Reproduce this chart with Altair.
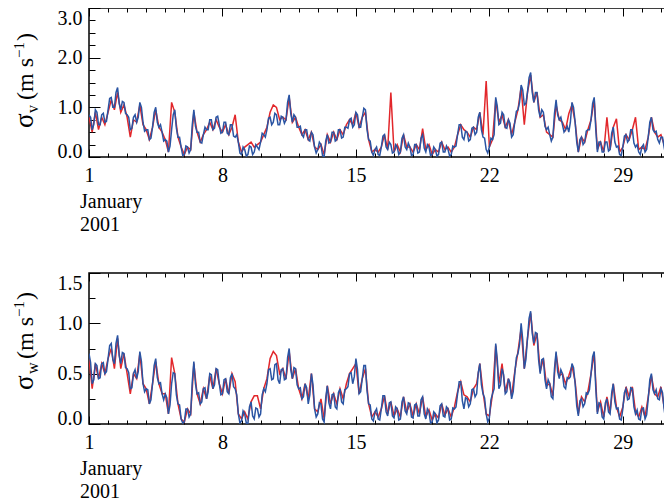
import altair as alt
import pandas as pd

# ---- data: day of January 2001 ----
# blue series read every 2 hours, red series every 4 hours
sv_blue = [
    0.85, 0.80, 0.55, 0.65, 0.95, 0.90, 0.65, 0.65, 0.85, 0.88, 0.70, 0.72,
    0.95, 1.18, 1.20, 1.00, 1.00, 1.30, 1.40, 1.08, 0.95, 1.12, 1.10, 0.88,
    0.85, 0.80, 0.55, 0.58, 0.80, 0.85, 0.70, 0.80, 1.10, 1.00, 0.70, 0.52,
    0.55, 0.55, 0.35, 0.38, 0.60, 0.90, 1.00, 0.70, 0.60, 0.65, 0.50, 0.32,
    0.35, 0.32, 0.10, 0.22, 0.55, 0.85, 0.95, 0.58, 0.40, 0.40, 0.20, 0.03,
    0.05, 0.22, 0.20, 0.08, 0.15, 0.65, 0.95, 0.62, 0.50, 0.50, 0.30, 0.28,
    0.45, 0.60, 0.55, 0.55, 0.75, 0.75, 0.55, 0.58, 0.80, 0.82, 0.65, 0.48,
    0.50, 0.70, 0.70, 0.48, 0.45, 0.65, 0.65, 0.42, 0.40, 0.45, 0.30, 0.08,
    0.05, 0.20, 0.15, 0.02, 0.05, 0.22, 0.20, 0.05, 0.10, 0.25, 0.20, 0.15,
    0.30, 0.48, 0.45, 0.40, 0.55, 0.78, 0.80, 0.65, 0.70, 0.88, 0.85, 0.65,
    0.65, 0.82, 0.80, 0.68, 0.75, 1.10, 1.25, 0.88, 0.70, 0.85, 0.80, 0.60,
    0.60, 0.62, 0.45, 0.40, 0.55, 0.55, 0.35, 0.32, 0.50, 0.45, 0.20, 0.08,
    0.15, 0.30, 0.25, 0.03, 0.00, 0.32, 0.45, 0.28, 0.30, 0.50, 0.50, 0.32,
    0.35, 0.55, 0.55, 0.38, 0.40, 0.60, 0.60, 0.58, 0.75, 0.78, 0.60, 0.65,
    0.90, 0.85, 0.60, 0.60, 0.80, 0.98, 0.95, 0.55, 0.35, 0.32, 0.10, 0.03,
    0.15, 0.20, 0.05, 0.03, 0.20, 0.42, 0.45, 0.20, 0.15, 0.30, 0.25, 0.08,
    0.10, 0.25, 0.20, 0.05, 0.10, 0.38, 0.45, 0.20, 0.15, 0.28, 0.20, 0.03,
    0.05, 0.25, 0.25, 0.08, 0.10, 0.38, 0.45, 0.18, 0.10, 0.25, 0.20, 0.03,
    0.05, 0.20, 0.15, 0.02, 0.05, 0.28, 0.30, 0.10, 0.10, 0.22, 0.15, 0.02,
    0.05, 0.22, 0.20, 0.22, 0.45, 0.65, 0.65, 0.40, 0.35, 0.52, 0.50, 0.32,
    0.35, 0.58, 0.60, 0.45, 0.50, 0.80, 0.90, 0.55, 0.40, 0.38, 0.15, 0.08,
    0.20, 0.38, 0.35, 0.45, 1.20, 1.02, 0.65, 0.68, 0.90, 0.85, 0.60, 0.58,
    0.75, 0.68, 0.40, 0.45, 0.70, 0.92, 0.95, 1.10, 1.45, 1.35, 1.05, 1.08,
    1.30, 1.60, 1.70, 1.30, 1.10, 1.30, 1.30, 0.95, 0.80, 0.95, 0.90, 0.62,
    0.55, 0.60, 0.45, 0.32, 0.40, 0.88, 1.15, 0.85, 0.75, 0.80, 0.65, 0.50,
    0.55, 0.62, 0.50, 0.70, 1.10, 1.00, 0.70, 0.30, 0.10, 0.35, 0.40, 0.25,
    0.30, 0.52, 0.55, 0.55, 0.75, 1.08, 1.20, 0.55, 0.10, 0.30, 0.30, 0.10,
    0.10, 0.30, 0.30, 0.12, 0.15, 0.48, 0.60, 0.30, 0.20, 0.22, 0.05, 0.03,
    0.20, 0.42, 0.45, 0.30, 0.35, 0.55, 0.55, 0.28, 0.20, 0.25, 0.10, 0.05,
    0.20, 0.25, 0.10, 0.15, 0.40, 0.70, 0.80, 0.55, 0.50, 0.52, 0.35, 0.28,
    0.40, 0.40, 0.20, 0.03, 0.05, 0.28, 0.30, 0.25, 0.40, 0.45, 0.30, 0.22,
    0.35,
]

sv_red = [
    0.80, 0.50, 0.90, 0.55, 0.80, 0.65,
    0.90, 1.15, 0.95, 1.30, 0.90, 1.05,
    0.80, 0.40, 0.75, 0.70, 1.05, 0.65,
    0.55, 0.35, 0.60, 0.95, 0.60, 0.50,
    0.35, 0.10, 1.10, 0.90, 0.40, 0.20,
    0.05, 0.20, 0.15, 0.90, 0.50, 0.30,
    0.45, 0.55, 0.70, 0.55, 0.75, 0.60,
    0.50, 0.65, 0.45, 0.60, 0.85, 0.30,
    0.10, 0.20, 0.25, 0.30, 0.20, 0.25,
    0.30, 0.45, 0.60, 0.90, 1.05, 1.00,
    0.75, 0.80, 0.75, 1.20, 0.70, 0.80,
    0.60, 0.45, 0.55, 0.35, 0.50, 0.20,
    0.15, 0.25, 0.05, 0.45, 0.30, 0.50,
    0.35, 0.55, 0.45, 0.65, 0.75, 0.65,
    0.90, 0.60, 0.80, 0.90, 0.35, 0.10,
    0.15, 0.10, 0.20, 0.45, 0.15, 1.30,
    0.10, 0.25, 0.10, 0.45, 0.20, 0.20,
    0.10, 0.25, 0.15, 0.57, 0.15, 0.25,
    0.05, 0.15, 0.10, 0.30, 0.15, 0.20,
    0.10, 0.20, 0.45, 0.65, 0.55, 0.50,
    0.40, 0.60, 0.55, 0.90, 0.45, 1.53,
    0.20, 0.35, 1.15, 0.70, 0.85, 0.60,
    0.75, 0.45, 0.70, 0.95, 1.40, 0.65,
    1.30, 1.65, 1.10, 1.30, 0.80, 0.85,
    0.50, 0.45, 0.40, 1.05, 0.75, 0.70,
    0.55, 0.87, 1.05, 0.70, 0.10, 0.40,
    0.30, 0.55, 0.75, 1.15, 0.15, 0.30,
    0.10, 0.80, 0.15, 0.60, 0.77, 0.10,
    0.20, 0.45, 0.35, 0.55, 0.80, 0.15,
    0.20, 0.15, 0.40, 0.80, 0.50, 0.40,
    0.45, 0.25, 0.10, 0.45, 0.40, 0.35,
    0.35,
]

sw_blue = [
    0.70, 0.61, 0.40, 0.44, 0.60, 0.58, 0.45, 0.46, 0.60, 0.61, 0.50, 0.52,
    0.65, 0.78, 0.80, 0.64, 0.60, 0.80, 0.88, 0.68, 0.60, 0.71, 0.70, 0.56,
    0.55, 0.51, 0.35, 0.36, 0.50, 0.54, 0.45, 0.52, 0.72, 0.62, 0.40, 0.32,
    0.35, 0.34, 0.20, 0.24, 0.40, 0.58, 0.65, 0.46, 0.40, 0.41, 0.30, 0.24,
    0.30, 0.26, 0.10, 0.19, 0.40, 0.51, 0.50, 0.29, 0.20, 0.19, 0.05, 0.01,
    0.02, 0.15, 0.15, 0.07, 0.10, 0.42, 0.62, 0.40, 0.30, 0.31, 0.20, 0.22,
    0.35, 0.36, 0.25, 0.32, 0.50, 0.49, 0.35, 0.39, 0.55, 0.54, 0.40, 0.29,
    0.30, 0.44, 0.45, 0.32, 0.30, 0.46, 0.50, 0.37, 0.35, 0.29, 0.10, 0.01,
    0.03, 0.13, 0.10, 0.01, 0.00, 0.17, 0.22, 0.08, 0.05, 0.16, 0.15, 0.07,
    0.10, 0.29, 0.35, 0.32, 0.40, 0.54, 0.55, 0.44, 0.45, 0.59, 0.60, 0.44,
    0.40, 0.54, 0.55, 0.44, 0.45, 0.66, 0.75, 0.54, 0.45, 0.56, 0.55, 0.39,
    0.35, 0.36, 0.25, 0.27, 0.40, 0.36, 0.20, 0.29, 0.50, 0.39, 0.15, 0.07,
    0.10, 0.21, 0.20, 0.05, 0.02, 0.26, 0.38, 0.21, 0.15, 0.29, 0.30, 0.17,
    0.15, 0.31, 0.35, 0.22, 0.20, 0.34, 0.35, 0.37, 0.50, 0.51, 0.40, 0.47,
    0.65, 0.54, 0.30, 0.32, 0.45, 0.58, 0.58, 0.33, 0.20, 0.19, 0.05, 0.03,
    0.12, 0.15, 0.05, 0.04, 0.15, 0.28, 0.28, 0.12, 0.08, 0.21, 0.22, 0.08,
    0.06, 0.17, 0.15, 0.04, 0.05, 0.22, 0.27, 0.13, 0.10, 0.21, 0.20, 0.07,
    0.06, 0.19, 0.20, 0.08, 0.08, 0.24, 0.27, 0.10, 0.05, 0.15, 0.12, 0.01,
    0.02, 0.12, 0.10, 0.01, 0.04, 0.18, 0.20, 0.08, 0.07, 0.17, 0.15, 0.04,
    0.05, 0.16, 0.15, 0.17, 0.30, 0.42, 0.42, 0.23, 0.15, 0.26, 0.25, 0.17,
    0.20, 0.34, 0.35, 0.27, 0.30, 0.51, 0.60, 0.39, 0.30, 0.26, 0.10, 0.02,
    0.06, 0.24, 0.30, 0.35, 0.80, 0.64, 0.35, 0.39, 0.55, 0.49, 0.30, 0.32,
    0.45, 0.41, 0.25, 0.32, 0.50, 0.66, 0.70, 0.79, 1.00, 0.84, 0.55, 0.64,
    0.85, 1.05, 1.12, 0.90, 0.80, 0.91, 0.90, 0.64, 0.50, 0.64, 0.65, 0.44,
    0.35, 0.44, 0.40, 0.27, 0.25, 0.55, 0.72, 0.52, 0.45, 0.54, 0.50, 0.37,
    0.35, 0.46, 0.45, 0.47, 0.60, 0.56, 0.40, 0.18, 0.08, 0.23, 0.25, 0.17,
    0.20, 0.31, 0.30, 0.34, 0.50, 0.67, 0.72, 0.35, 0.10, 0.21, 0.20, 0.07,
    0.05, 0.21, 0.25, 0.12, 0.10, 0.31, 0.40, 0.22, 0.15, 0.16, 0.05, 0.04,
    0.15, 0.31, 0.35, 0.24, 0.25, 0.36, 0.35, 0.17, 0.10, 0.14, 0.05, 0.04,
    0.15, 0.16, 0.05, 0.09, 0.25, 0.44, 0.50, 0.34, 0.30, 0.34, 0.25, 0.24,
    0.35, 0.31, 0.15, 0.04, 0.04, 0.21, 0.25, 0.22, 0.30, 0.31, 0.20, 0.17,
    0.25,
]

sw_red = [
    0.65, 0.35, 0.60, 0.45, 0.60, 0.50,
    0.65, 0.75, 0.55, 0.85, 0.55, 0.70,
    0.50, 0.30, 0.50, 0.45, 0.70, 0.40,
    0.35, 0.20, 0.40, 0.62, 0.40, 0.30,
    0.30, 0.10, 0.66, 0.50, 0.20, 0.05,
    0.02, 0.15, 0.10, 0.60, 0.30, 0.20,
    0.35, 0.25, 0.48, 0.35, 0.55, 0.40,
    0.30, 0.45, 0.30, 0.50, 0.42, 0.10,
    0.05, 0.12, 0.05, 0.22, 0.28, 0.28,
    0.15, 0.35, 0.45, 0.65, 0.72, 0.68,
    0.50, 0.55, 0.45, 0.72, 0.45, 0.55,
    0.35, 0.25, 0.40, 0.25, 0.50, 0.15,
    0.12, 0.25, 0.05, 0.38, 0.20, 0.30,
    0.20, 0.35, 0.25, 0.40, 0.50, 0.55,
    0.60, 0.30, 0.45, 0.55, 0.20, 0.07,
    0.12, 0.07, 0.15, 0.28, 0.10, 0.22,
    0.08, 0.15, 0.07, 0.27, 0.12, 0.20,
    0.08, 0.20, 0.10, 0.27, 0.07, 0.14,
    0.04, 0.10, 0.06, 0.20, 0.09, 0.15,
    0.07, 0.17, 0.32, 0.42, 0.29, 0.27,
    0.22, 0.35, 0.40, 0.60, 0.32, 0.10,
    0.08, 0.30, 0.78, 0.40, 0.60, 0.32,
    0.45, 0.28, 0.52, 0.72, 0.95, 0.55,
    0.85, 1.10, 0.78, 0.90, 0.52, 0.65,
    0.38, 0.40, 0.28, 0.70, 0.48, 0.50,
    0.40, 0.48, 0.58, 0.42, 0.10, 0.27,
    0.22, 0.32, 0.50, 0.70, 0.12, 0.22,
    0.07, 0.27, 0.12, 0.40, 0.17, 0.07,
    0.17, 0.37, 0.27, 0.37, 0.12, 0.07,
    0.17, 0.07, 0.27, 0.48, 0.30, 0.27,
    0.37, 0.17, 0.06, 0.30, 0.30, 0.22,
    0.25,
]

day_major = [1, 8, 15, 22, 29]
day_minor = list(range(1, 33))
sv_ticks = [0.0, 1.0, 2.0, 3.0]
sv_minor = [0.0, 0.25, 0.5, 0.75, 1.0, 1.25, 1.5, 1.75, 2.0, 2.25, 2.5, 2.75, 3.0]
sw_ticks = [0.0, 0.5, 1.0, 1.5]
sw_minor = [0.0, 0.25, 0.5, 0.75, 1.0, 1.25, 1.5]
month_lines = ["January", "2001"]

days_blue = [1 + i / 12 for i in range(len(sv_blue))]
days_red = [1 + i / 6 for i in range(len(sv_red))]

# ---- styling ----
W = 591
FONT = "Liberation Serif"
RED = "#e2272b"
BLUE = "#2a54a3"
one = pd.DataFrame({"k": [0]})


def text_piece(txt, x, y, size):
    return alt.Chart(one).mark_text(
        angle=270, align="left", baseline="alphabetic", font=FONT,
        fontSize=size, color="black"
    ).encode(x=alt.value(x), y=alt.value(y), text=alt.value(txt))


def panel(blue, red, ymax, yticks, yminor, sub, pos, H):
    dfb = pd.DataFrame({"day": days_blue, "v": blue})
    dfr = pd.DataFrame({"day": days_red, "v": red})
    xs = alt.Scale(domain=[1, 32], nice=False, zero=False)
    ys = alt.Scale(domain=[0, ymax], nice=False, zero=False)
    c = dict(domain=False, grid=False, title=None, tickColor="black", tickWidth=1)
    lab = dict(labelFont=FONT, labelFontSize=20, labelColor="black")

    labels = alt.Chart(dfb).mark_line(strokeOpacity=0).encode(
        x=alt.X("day:Q", scale=xs, axis=alt.Axis(
            **c, **lab, orient="bottom", values=day_major, ticks=False, labelPadding=8,
            format="d", labelFlush=False)),
        y=alt.Y("v:Q", scale=ys, axis=alt.Axis(
            **c, **lab, orient="left", values=yticks[1:], ticks=False, labelPadding=7,
            format=".1f", labelFlush=True, labelFlushOffset=0)),
    )
    zero_lab = alt.Chart(dfb).mark_line(strokeOpacity=0).encode(
        x=alt.X("day:Q", scale=xs, axis=None),
        y=alt.Y("v:Q", scale=ys, axis=alt.Axis(
            **c, **lab, orient="left", values=yticks[:1], ticks=False, labelPadding=7,
            format=".1f", labelFlush=False, labelBaseline="alphabetic")),
    )
    red_l = alt.Chart(dfr).mark_line(color=RED, strokeWidth=1.5, clip=True).encode(
        x=alt.X("day:Q", scale=xs, axis=alt.Axis(
            **c, orient="top", offset=-H, values=day_major, tickSize=8, labels=False)),
        y=alt.Y("v:Q", scale=ys, axis=alt.Axis(
            **c, orient="right", offset=-W, values=yticks, tickSize=11, labels=False)),
    )
    blue_l = alt.Chart(dfb).mark_line(color=BLUE, strokeWidth=1.5, clip=True).encode(
        x=alt.X("day:Q", scale=xs, axis=alt.Axis(
            **c, orient="top", offset=-H, values=day_minor, tickSize=4, labels=False)),
        y=alt.Y("v:Q", scale=ys, axis=alt.Axis(
            **c, orient="right", offset=-W, values=yminor, tickSize=6, labels=False)),
    )
    inv1 = alt.Chart(dfb).mark_line(strokeOpacity=0).encode(
        x=alt.X("day:Q", scale=xs, axis=alt.Axis(
            **c, orient="bottom", offset=-H, values=day_major, tickSize=8, labels=False)),
        y=alt.Y("v:Q", scale=ys, axis=alt.Axis(
            **c, orient="left", offset=-W, values=yticks, tickSize=11, labels=False)),
    )
    inv2 = alt.Chart(dfb).mark_line(strokeOpacity=0).encode(
        x=alt.X("day:Q", scale=xs, axis=alt.Axis(
            **c, orient="bottom", offset=-H, values=day_minor, tickSize=4, labels=False)),
        y=alt.Y("v:Q", scale=ys, axis=alt.Axis(
            **c, orient="left", offset=-W, values=yminor, tickSize=6, labels=False)),
    )
    bx = -56
    texts = [
        text_piece("σ", bx, pos[0], 27),
        text_piece(sub, bx + 5, pos[1], 16),
        text_piece("(m s", bx, pos[2], 24),
        text_piece("−1", bx - 9, pos[3], 15),
        text_piece(")", bx, pos[4], 24),
    ]
    month = [
        alt.Chart(one).mark_text(align="left", baseline="alphabetic", font=FONT,
                                 fontSize=20, color="black")
        .encode(x=alt.value(-9), y=alt.value(H + 51 + 23 * i), text=alt.value(t))
        for i, t in enumerate(month_lines)
    ]
    return alt.layer(labels, zero_lab, red_l, blue_l, inv1, inv2, *texts, *month
                     ).resolve_scale(x="shared", y="shared").resolve_axis(
        x="independent", y="independent").properties(width=W, height=H)


top = panel(sv_blue, sv_red, 3.0, sv_ticks, sv_minor, "v", [120, 105, 92, 50, 33], 149)
bottom = panel(sw_blue, sw_red, 1.5, sw_ticks, sw_minor, "w", [117, 101, 86, 44, 27], 151)

# fixed-size canvas 656 x 496 with the plot origin at (89, 8) on the page;
# the negative right padding crops the plot at the page edge as in the original
chart = alt.vconcat(top, bottom, spacing=116, bounds="flush").properties(
    padding={"left": 81, "top": 0, "right": -16, "bottom": 493},
    autosize=alt.AutoSizeParams(type="none"),
).configure_view(stroke="black", strokeWidth=1.5).configure_axis(grid=False)

chart.save("out.html", embed_options={"renderer": "svg", "actions": False})
